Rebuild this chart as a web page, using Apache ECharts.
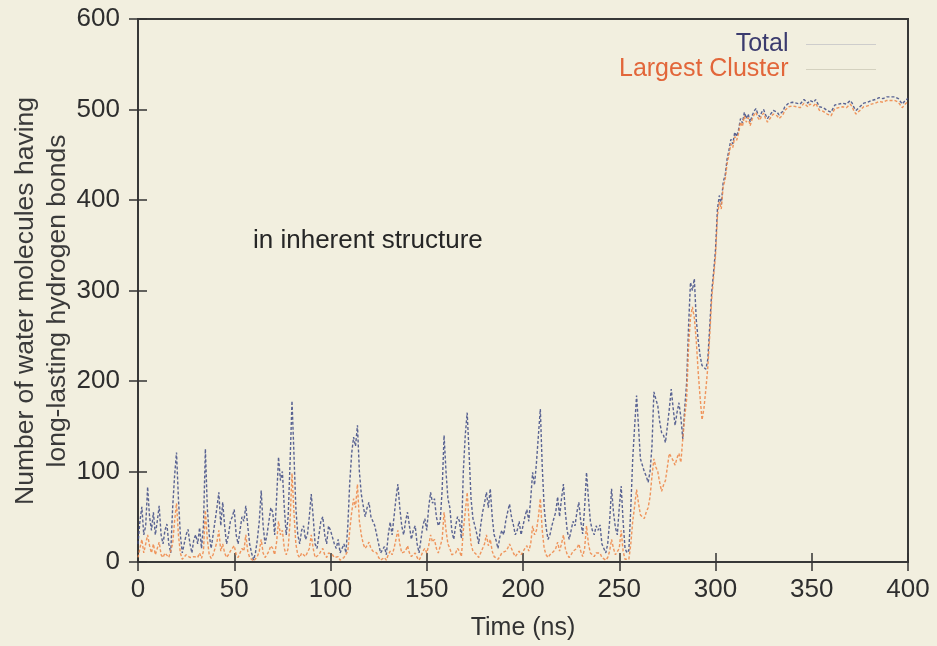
<!DOCTYPE html>
<html>
<head>
<meta charset="utf-8">
<script src="https://cdn.jsdelivr.net/npm/echarts@6/dist/echarts.min.js"></script>
<style>
html,body{margin:0;padding:0;background:#f2efdf;}
#chart{width:937px;height:646px;}
</style>
</head>
<body>
<div id="chart"></div>
<script>
// Time axis: one sample per ns, 0..400 ns
const timeStart = 0;
const xTicks = [0, 50, 100, 150, 200, 250, 300, 350, 400];
const yTicks = [0, 100, 200, 300, 400, 500, 600];

// Total number of water molecules (1 ns step)
const totalValues = [
  20,45,61,30,40,83,50,35,55,30,
  45,62,30,20,35,42,20,10,60,95,
  121,70,30,10,20,30,36,20,10,25,
  30,20,38,15,40,125,60,30,15,30,
  45,60,77,40,66,40,20,30,45,50,
  58,30,20,35,50,45,62,40,20,10,
  2,10,25,45,79,40,20,30,45,60,
  55,30,70,116,90,100,60,30,50,110,
  178,120,60,30,20,35,40,25,30,50,
  75,50,20,15,30,45,50,30,20,40,
  35,34,20,15,25,10,15,20,10,40,
  88,120,138,128,151,100,75,62,50,60,
  66,50,45,40,38,20,10,12,17,8,
  30,44,30,50,70,86,60,40,30,45,
  55,40,25,35,40,20,10,25,40,48,
  35,60,77,65,70,50,40,45,80,140,
  100,70,60,35,25,40,50,45,26,100,
  140,165,120,70,48,40,31,20,40,55,
  65,77,60,81,50,30,24,15,28,35,
  30,45,55,64,50,41,30,35,45,30,
  40,50,58,45,70,99,85,110,140,169,
  105,60,38,25,30,40,48,55,72,50,
  70,86,55,34,25,35,45,40,55,66,
  45,31,60,99,70,45,35,30,40,35,
  41,20,15,10,20,45,81,55,38,30,
  60,84,45,15,10,13,60,114,150,184,
  150,114,107,100,95,88,100,128,188,180,
  173,155,143,140,132,150,169,191,170,151,
  165,176,160,136,170,198,260,309,300,313,
  268,245,228,217,215,213,224,260,298,320,
  345,390,405,395,420,427,445,455,467,462,
  475,470,478,490,485,497,490,495,486,493,
  498,501,495,492,497,500,494,490,488,496,
  499,501,497,494,492,498,503,505,507,505,
  508,510,507,509,506,508,511,509,507,510,
  510,508,511,507,503,505,502,500,499,498,
  497,501,505,503,506,507,507,509,506,508,
  510,507,502,499,497,503,505,507,505,508,
  508,510,509,511,512,513,513,512,514,514,
  513,514,513,514,514,512,510,506,508,511,
  512
];

// Largest cluster (1 ns step)
const largestValues = [
  5,15,25,10,12,30,18,10,20,8,
  15,22,8,5,10,12,5,3,20,45,
  65,30,10,3,5,8,10,5,3,6,
  8,5,10,4,12,57,25,8,4,8,
  15,22,35,12,20,10,5,8,12,15,
  18,8,5,10,15,12,30,12,5,3,
  1,3,6,12,25,10,5,8,12,18,
  15,8,22,45,30,35,15,8,15,45,
  98,55,20,8,5,10,12,6,8,15,
  30,15,5,3,8,12,15,8,5,10,
  10,8,5,3,6,2,4,5,3,12,
  35,55,70,60,86,45,30,20,15,18,
  22,15,12,10,10,5,2,3,5,2,
  8,12,8,15,25,35,20,10,8,12,
  18,10,6,8,10,5,2,6,12,15,
  10,18,30,22,25,15,10,12,25,55,
  35,20,15,8,6,10,15,12,6,35,
  55,77,45,20,12,10,8,5,10,15,
  20,30,18,25,12,6,5,3,6,10,
  8,12,15,20,15,10,6,8,12,8,
  10,15,18,12,20,40,30,35,50,70,
  35,15,8,5,8,10,12,15,22,12,
  20,30,15,8,5,8,12,10,15,20,
  12,6,15,40,20,10,8,6,10,8,
  10,5,3,2,5,12,25,15,8,6,
  15,35,12,3,2,3,20,45,62,80,
  65,52,50,48,55,60,72,95,114,105,
  100,88,78,85,90,105,120,122,112,107,
  115,120,110,136,160,180,238,270,282,270,
  245,210,182,157,170,191,215,250,290,315,
  338,382,398,390,415,422,440,450,462,458,
  470,466,474,486,481,493,486,491,482,489,
  494,497,491,488,493,496,490,486,484,492,
  495,497,493,490,488,494,499,501,503,501,
  504,506,503,505,502,504,507,505,503,506,
  506,504,507,503,499,501,498,496,495,494,
  493,497,501,499,502,503,503,505,502,504,
  506,503,498,495,493,499,501,503,501,504,
  504,506,505,507,508,509,509,508,510,510,
  509,510,509,510,510,508,506,502,504,507,
  508
];

const seriesNames = ['Total', 'Largest Cluster'];
const annotationText = 'in inherent structure';
const yTitleLines = ['Number of water molecules having', 'long-lasting hydrogen bonds'];
const xTitle = 'Time (ns)';

const toPairs = vals => vals.map((v, i) => [timeStart + i, v]);

const FONT = '"Liberation Sans", Arial, Helvetica, sans-serif';
const chart = echarts.init(document.getElementById('chart'), null, {renderer: 'canvas'});

const tickStyle = {show: true, inside: true, length: 9, lineStyle: {color: '#333', width: 1.5}};
const option = {
  backgroundColor: '#f2efdf',
  animation: false,
  grid: {left: 138, right: 29, top: 19, bottom: 83, show: true,
         borderColor: '#383838', borderWidth: 2, backgroundColor: 'transparent'},
  legend: {
    orient: 'vertical', right: 55, top: 27, align: 'right',
    itemWidth: 70, itemHeight: 16, itemGap: 0,
    itemStyle: {opacity: 0},
    lineStyle: {width: 1, type: 'dotted', opacity: 0.8},
    data: [
      {name: seriesNames[0], textStyle: {color: '#3b3b6e'}, lineStyle: {color: '#9a9cb0'}},
      {name: seriesNames[1], textStyle: {color: '#e2663a'}, lineStyle: {color: '#a8a590'}}
    ],
    textStyle: {fontFamily: FONT, fontSize: 25, padding: [0, 13, 0, 0]}
  },
  xAxis: [
    {type: 'value', min: 0, max: 400, interval: 50, position: 'bottom',
     name: xTitle, nameLocation: 'middle', nameGap: 54,
     nameTextStyle: {fontFamily: FONT, fontSize: 25, color: '#333'},
     axisLine: {show: false}, axisTick: tickStyle, splitLine: {show: false},
     axisLabel: {fontFamily: FONT, fontSize: 26, color: '#2e2e2e', margin: 15}},
    {type: 'value', min: 0, max: 400, interval: 50, position: 'top',
     axisLine: {show: false}, axisTick: tickStyle, splitLine: {show: false},
     axisLabel: {show: false}}
  ],
  yAxis: [
    {type: 'value', min: 0, max: 600, interval: 100, position: 'left',
     axisLine: {show: false}, axisTick: tickStyle, splitLine: {show: false},
     axisLabel: {fontFamily: FONT, fontSize: 26, color: '#2e2e2e', margin: 18}},
    {type: 'value', min: 0, max: 600, interval: 100, position: 'right',
     axisLine: {show: false}, axisTick: tickStyle, splitLine: {show: false},
     axisLabel: {show: false}}
  ],
  graphic: [
    {type: 'text', left: 253, top: 228,
     style: {text: annotationText, fontFamily: FONT, fontSize: 26, fill: '#262626'}},
    {type: 'text', x: 26, y: 301, rotation: Math.PI / 2,
     style: {text: yTitleLines[0], fontFamily: FONT, fontSize: 26.5, fill: '#3a3a3a',
             textAlign: 'center', textVerticalAlign: 'middle'}},
    {type: 'text', x: 58, y: 301, rotation: Math.PI / 2,
     style: {text: yTitleLines[1], fontFamily: FONT, fontSize: 26.5, fill: '#3a3a3a',
             textAlign: 'center', textVerticalAlign: 'middle'}}
  ],
  series: [
    {name: seriesNames[0], type: 'line', xAxisIndex: 0, yAxisIndex: 0,
     data: toPairs(totalValues), symbol: 'none', smooth: false,
     lineStyle: {color: '#3e4a85', width: 1.4, type: [3, 2], opacity: 0.85},
     itemStyle: {color: '#3e4a85'}},
    {name: seriesNames[1], type: 'line', xAxisIndex: 0, yAxisIndex: 0,
     data: toPairs(largestValues), symbol: 'none', smooth: false,
     lineStyle: {color: '#ee8a4c', width: 1.4, type: [3, 2], opacity: 0.9},
     itemStyle: {color: '#ee8a4c'}}
  ]
};
chart.setOption(option);
</script>
</body>
</html>
